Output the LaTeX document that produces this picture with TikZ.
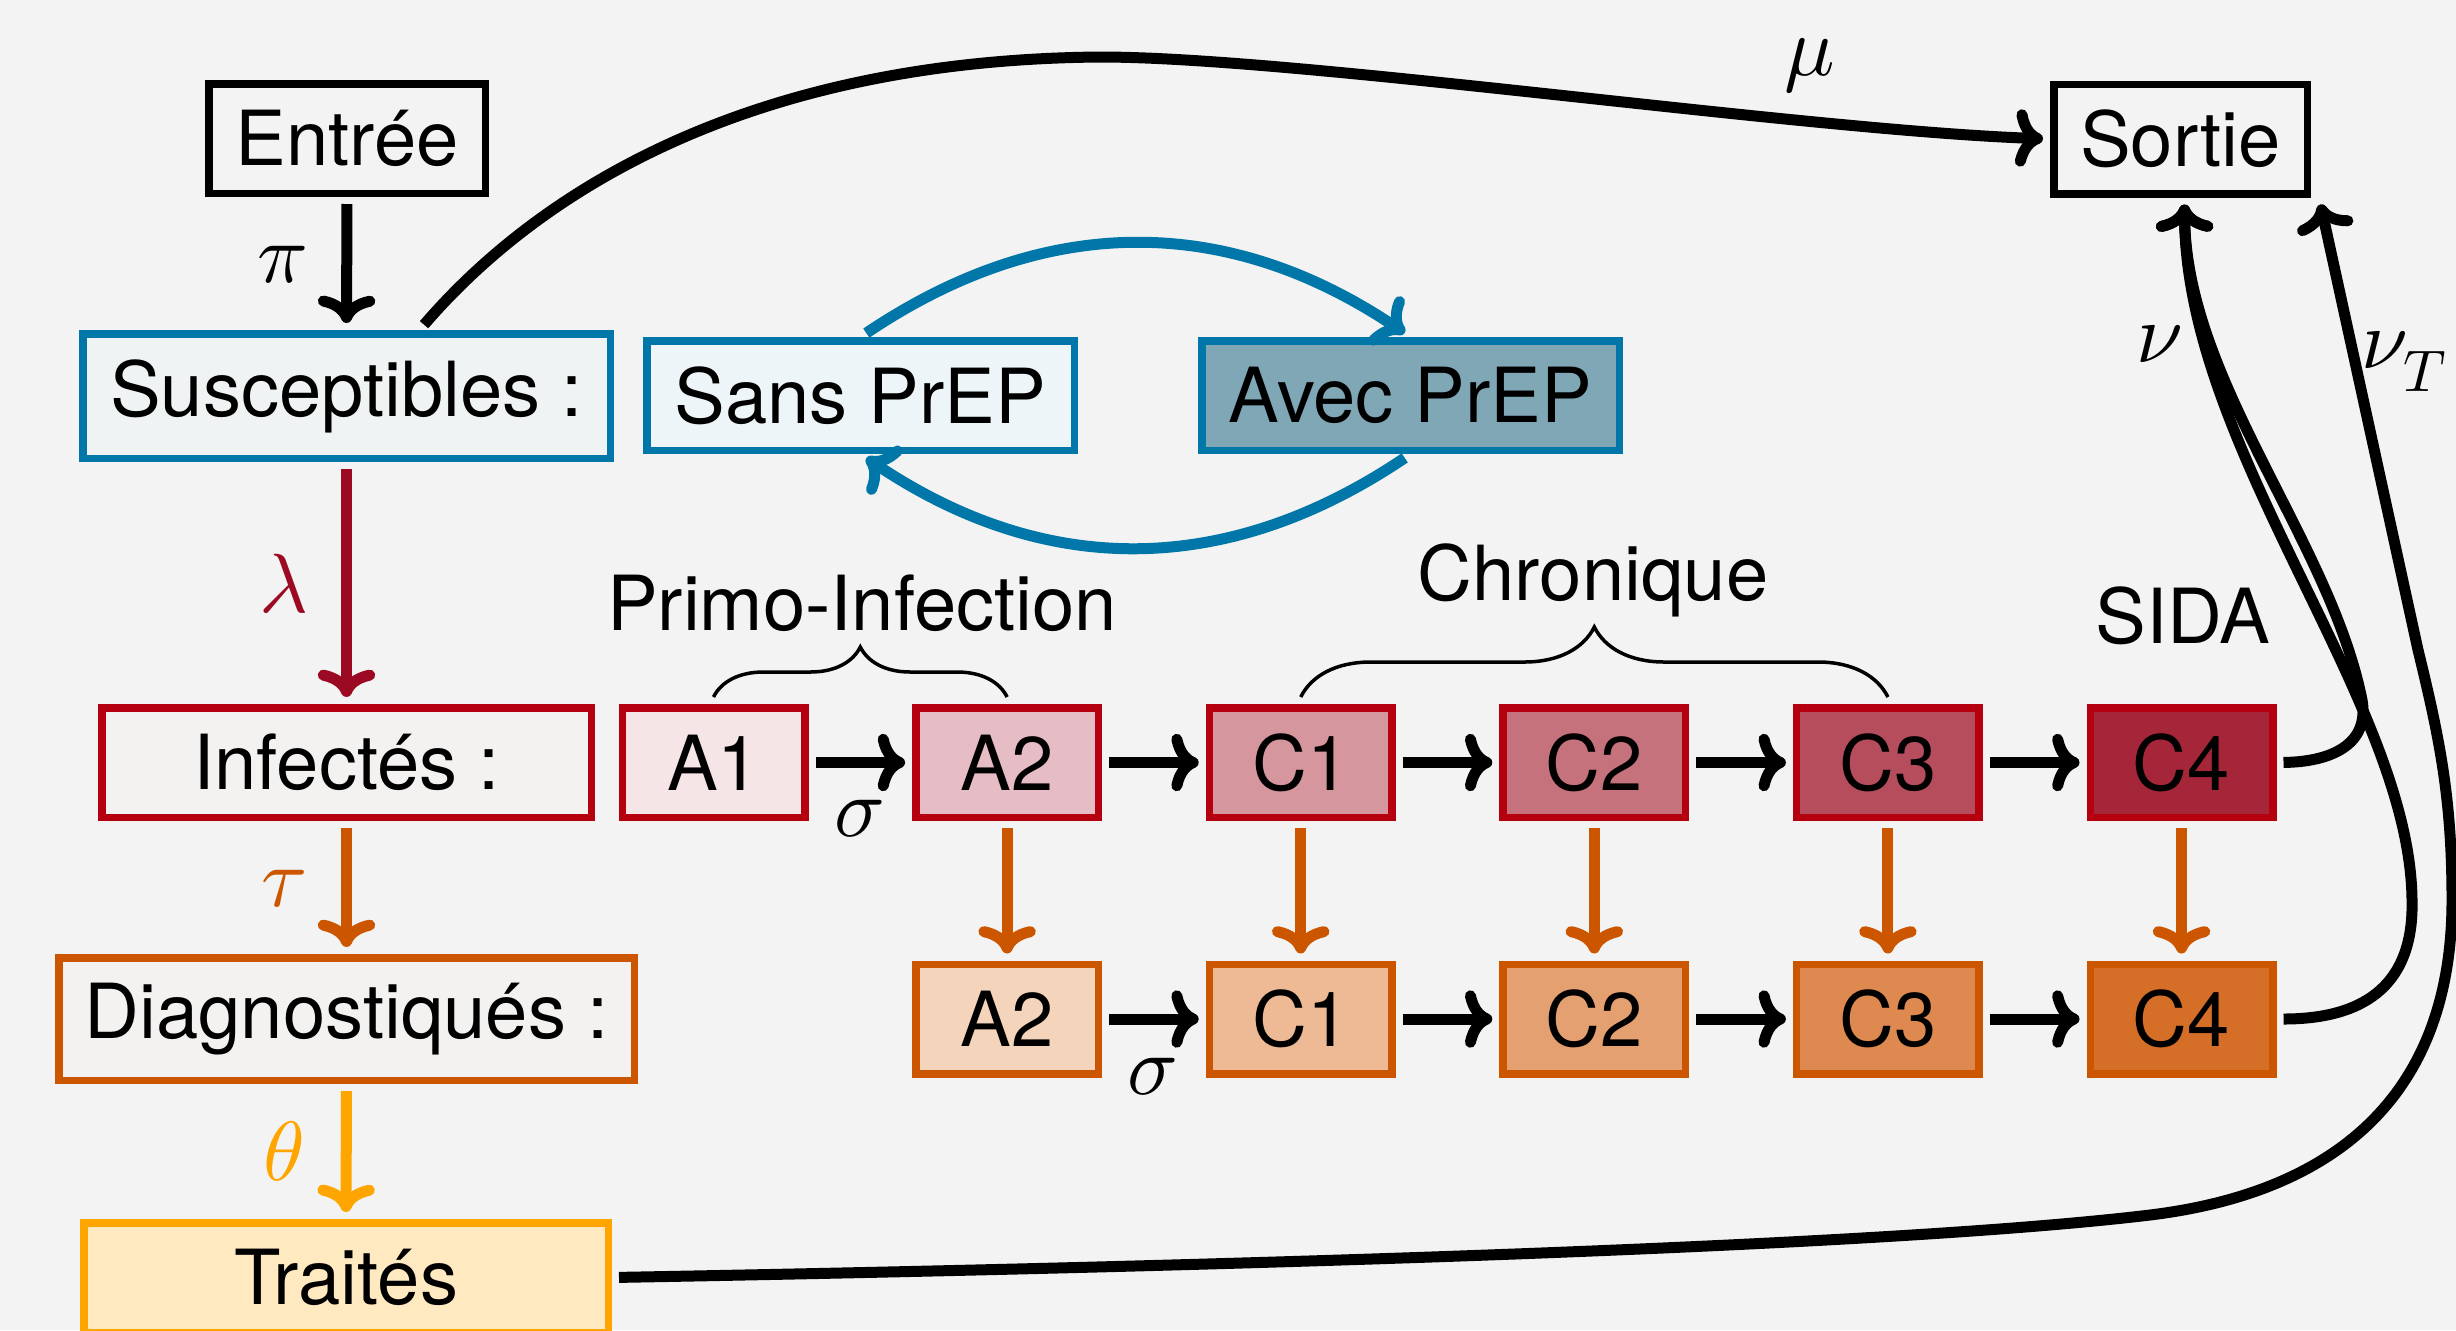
\documentclass[tikz,border=0pt]{standalone}
\usepackage{fontspec}
\setmainfont{TeX Gyre Heros}
\DeclareFontFamily{OML}{cmm}{\skewchar\font'177}
\DeclareFontShape{OML}{cmm}{m}{it}{<->cmmi10}{}
\usetikzlibrary{calc,decorations.pathreplacing,arrows.meta}

\definecolor{bg}{HTML}{F2F3F2}
\definecolor{bleu}{HTML}{0077A8}
\definecolor{bleuclair}{HTML}{EEF5F8}
\definecolor{bleufonce}{HTML}{80A7B6}
\definecolor{susfill}{HTML}{F0F3F4}
\definecolor{rouge}{HTML}{B5000F}
\definecolor{rougef}{HTML}{9B0A22}
\definecolor{inffill}{HTML}{F4F1F1}
\definecolor{ra1}{HTML}{F5E5E7}
\definecolor{ra2}{HTML}{E6BDC4}
\definecolor{rc1}{HTML}{D6969E}
\definecolor{rc2}{HTML}{C6727C}
\definecolor{rc3}{HTML}{B64D5C}
\definecolor{rc4}{HTML}{A52539}
\definecolor{orng}{HTML}{CC5500}
\definecolor{diagfill}{HTML}{F4F2F0}
\definecolor{oa2}{HTML}{F4D4BB}
\definecolor{oc1}{HTML}{EDBA95}
\definecolor{oc2}{HTML}{E5A071}
\definecolor{oc3}{HTML}{DE894F}
\definecolor{oc4}{HTML}{D56E27}
\definecolor{gold}{HTML}{FFA500}
\definecolor{traitfill}{HTML}{FFE9C1}

\begin{document}
\begin{tikzpicture}[x=0.5pt,y=-0.5pt,
  box/.style={draw, line width=3.75pt, inner sep=0pt, minimum height=54.75pt,
    font=\fontsize{38}{46}\selectfont, text=black},
  sbox/.style={box, minimum width=91.25pt},
  lbl/.style={inner sep=0pt, font=\fontsize{38}{46}\selectfont},
  mlbl/.style={inner sep=0pt, font=\fontsize{42}{50}\selectfont},
  arr/.style={-{Computer Modern Rightarrow}, line width=5.5pt, shorten >=3.5pt, shorten <=3.5pt},
  brc/.style={decorate, line width=1.75pt},
]
\useasboundingbox (0,0) rectangle (2456,1330);
\fill[bg] (0,0) rectangle (2456,1330);

% left column
\node[box, minimum width=138.25pt] (entree) at (347,138.5) {Entrée};
\node[box, draw=bleu, fill=susfill, minimum width=263.75pt, minimum height=62.25pt] (sus) at (346.5,396) {Susceptibles :};
\node[box, draw=rouge, fill=inffill, minimum width=244.75pt] (inf) at (346.5,762.5) {Infectés :};
\node[box, draw=orng, fill=diagfill, minimum width=287.75pt, minimum height=61.25pt] (diag) at (346.5,1019) {Diagnostiqués :};
\node[box, draw=gold, fill=traitfill, minimum width=262.25pt] (trait) at (346,1277.5) {Traités};

% PrEP
\node[box, draw=bleu, fill=bleuclair, minimum width=213.75pt] (sans) at (860.5,395.5) {Sans PrEP};
\node[box, draw=bleu, fill=bleufonce, minimum width=208.75pt] (avec) at (1410.5,395.5) {Avec PrEP};

% Sortie
\node[box, minimum width=126.75pt] (sortie) at (2180.5,139) {Sortie};

% infected row
\node[sbox, draw=rouge, fill=ra1] (a1) at (713.5,762.5) {A1};
\node[sbox, draw=rouge, fill=ra2] (a2) at (1007.1,762.5) {A2};
\node[sbox, draw=rouge, fill=rc1] (c1) at (1300.7,762.5) {C1};
\node[sbox, draw=rouge, fill=rc2] (c2) at (1594.3,762.5) {C2};
\node[sbox, draw=rouge, fill=rc3] (c3) at (1887.9,762.5) {C3};
\node[sbox, draw=rouge, fill=rc4] (c4) at (2181.5,762.5) {C4};

% diagnosed row
\node[sbox, draw=orng, fill=oa2] (da2) at (1007.1,1019) {A2};
\node[sbox, draw=orng, fill=oc1] (dc1) at (1300.7,1019) {C1};
\node[sbox, draw=orng, fill=oc2] (dc2) at (1594.3,1019) {C2};
\node[sbox, draw=orng, fill=oc3] (dc3) at (1887.9,1019) {C3};
\node[sbox, draw=orng, fill=oc4] (dc4) at (2181.5,1019) {C4};

% group labels
\node[lbl, anchor=base] (primo) at (862,630) {Primo-Infection};
\node[lbl, anchor=base] (chron) at (1593,600) {Chronique};
\node[lbl, anchor=base] (sida) at (2183,643) {SIDA};

\draw[brc, decoration={brace, amplitude=25pt}] ($(a1.north)+(0,-7)$) -- ($(a2.north)+(0,-7)$);
\draw[brc, decoration={brace, amplitude=35pt}] ($(c1.north)+(0,-7)$) -- ($(c3.north)+(0,-7)$);

% rate labels
\node[mlbl] (pi) at (283,264) {$\pi$};
\node[mlbl, text=rougef] (lam) at (284,583) {$\lambda$};
\node[mlbl, text=orng] (tau) at (285,888) {$\tau$};
\node[mlbl, text=gold] (theta) at (284,1151) {$\theta$};
\node[mlbl] (s1) at (860,818) {$\sigma$};
\node[mlbl] (s2) at (1153,1076) {$\sigma$};
\node[mlbl] (mu) at (1810,66) {$\mu$};
\node[mlbl] (nu) at (2160,344) {$\nu$};
\node[mlbl] (nut) at (2404,362) {$\nu_T$};

% vertical flows
\draw[arr] (entree.south) -- (sus.north);
\draw[arr, color=rougef] (sus.south) -- (inf.north);
\draw[arr, color=orng] (inf.south) -- (diag.north);
\draw[arr, color=gold] (diag.south) -- (trait.north);

% row progressions
\draw[arr] (a1.east) -- (a2.west);
\draw[arr] (a2.east) -- (c1.west);
\draw[arr] (c1.east) -- (c2.west);
\draw[arr] (c2.east) -- (c3.west);
\draw[arr] (c3.east) -- (c4.west);
\draw[arr] (da2.east) -- (dc1.west);
\draw[arr] (dc1.east) -- (dc2.west);
\draw[arr] (dc2.east) -- (dc3.west);
\draw[arr] (dc3.east) -- (dc4.west);

% diagnosis
\draw[arr, color=orng] (a2.south) -- (da2.north);
\draw[arr, color=orng] (c1.south) -- (dc1.north);
\draw[arr, color=orng] (c2.south) -- (dc2.north);
\draw[arr, color=orng] (c3.south) -- (dc3.north);
\draw[arr, color=orng] (c4.south) -- (dc4.north);

% PrEP switching
\draw[arr, color=bleu] (sans.north) .. controls +(184,-124) and +(-184,-124) .. (avec.north);
\draw[arr, color=bleu] (avec.south) .. controls +(-184,124) and +(184,124) .. (sans.south);

% exits
\draw[arr] ($(sus.north)+(73,0)$) .. controls (540,190) and (750,60) .. (1100,57)
  .. controls (1300,57) and (1800,130) .. (sortie.west);
\draw[arr] (c4.east) .. controls (2330,762) and (2370,745) .. (2362,700)
  .. controls (2330,540) and (2185,380) .. ($(sortie.south)+(4,0)$);
\draw[arr] (dc4.east) .. controls (2370,1019) and (2414,980) .. (2412,900)
  .. controls (2410,700) and (2185,450) .. ($(sortie.south)+(4,0)$);
\draw[arr] (trait.east) .. controls (1300,1265) and (1900,1245) .. (2150,1215)
  .. controls (2330,1193) and (2452,1100) .. (2452,900)
  .. controls (2452,800) and (2440,740) .. (2418,650)
  -- ($(sortie.south east)+(8,0)$);
\end{tikzpicture}
\end{document}
